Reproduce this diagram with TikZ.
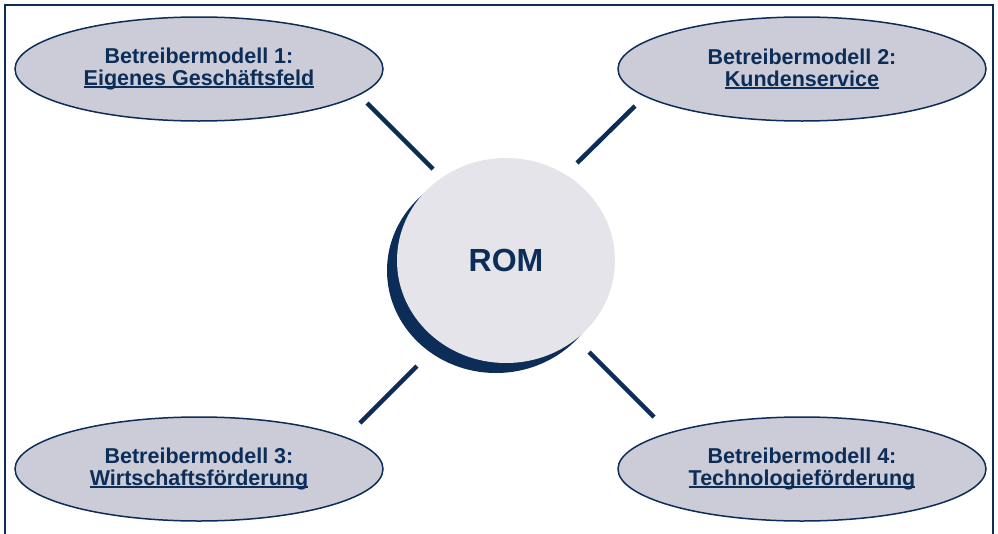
\documentclass[tikz,border=0pt]{standalone}
\usepackage{fontspec}
\setmainfont{Liberation Sans}
\usetikzlibrary{shapes.geometric}
\definecolor{navy}{HTML}{0C2D58}
\definecolor{ellfill}{HTML}{CBCCD8}
\definecolor{circfill}{HTML}{E5E4EB}
\newsavebox{\myulbox}
\newcommand{\myul}[1]{\sbox{\myulbox}{#1}\rlap{\rule[-2.6pt]{\wd\myulbox}{1.4pt}}\usebox{\myulbox}}
\tikzset{
  bm/.style={ellipse, draw=navy, line width=1.5pt, fill=ellfill, inner sep=0pt,
    minimum width=368pt, minimum height=104pt, text=navy, align=center,
    font=\bfseries\fontsize{21.5}{21.5}\selectfont},
  link/.style={draw=navy, line width=4.5pt},
  frame/.style={draw=navy, line width=2.5pt}
}
\begin{document}
\begin{tikzpicture}[x=1pt,y=-1pt]
\useasboundingbox (0,0) rectangle (998,533);
\clip (0,0) rectangle (998,533);
\draw[frame] (5,560) -- (5,5) -- (993,5) -- (993,560);
% ROM
\node[ellipse, fill=navy, minimum width=218pt, minimum height=205pt, inner sep=0pt] (romshadow) at (496,270.5) {};
\node[ellipse, fill=circfill, minimum width=218pt, minimum height=205pt, inner sep=0pt,
  text=navy, font=\bfseries\fontsize{32}{32}\selectfont] (rom) at (506,260.5) {ROM};
% models
\node[bm] (e1) at (199,69) {Betreibermodell 1:\\\myul{Eigenes Geschäftsfeld}};
\node[bm] (e2) at (802,69) {Betreibermodell 2:\\\myul{Kundenservice}};
\node[bm] (e3) at (199,469) {Betreibermodell 3:\\\myul{Wirtschaftsförderung}};
\node[bm] (e4) at (802,469) {Betreibermodell 4:\\\myul{Technologieförderung}};
% connectors
\coordinate (c1a) at (367,103); \coordinate (c1b) at (433,169);
\coordinate (c2a) at (635,106); \coordinate (c2b) at (577,163);
\coordinate (c3a) at (360,423); \coordinate (c3b) at (417,366);
\coordinate (c4a) at (589,352); \coordinate (c4b) at (654,417);
\draw[link] (c1a) -- (c1b);
\draw[link] (c2a) -- (c2b);
\draw[link] (c3a) -- (c3b);
\draw[link] (c4a) -- (c4b);
\end{tikzpicture}
\end{document}
